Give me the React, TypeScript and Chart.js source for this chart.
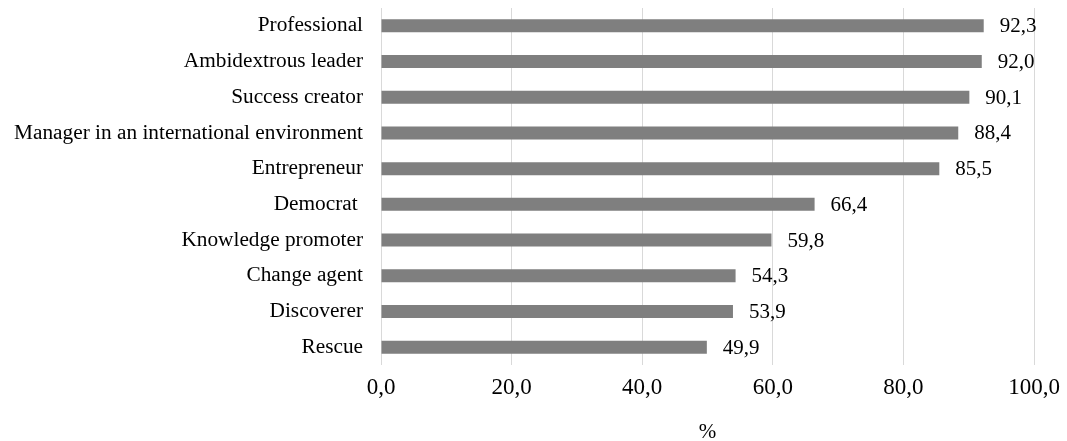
import React, { useEffect, useRef } from "react";
import { Chart, registerables } from "chart.js";

Chart.register(...registerables);

const categories = [
  "Professional",
  "Ambidextrous leader",
  "Success creator",
  "Manager in an international environment",
  "Entrepreneur",
  "Democrat ",
  "Knowledge promoter",
  "Change agent",
  "Discoverer",
  "Rescue",
];
const values = [92.3, 92.0, 90.1, 88.4, 85.5, 66.4, 59.8, 54.3, 53.9, 49.9];
const xTicks = [0, 20, 40, 60, 80, 100];

const FONT = "'Liberation Serif', 'Times New Roman', serif";
const fmt = (v: number) => v.toFixed(1).replace(".", ",");

const dataLabelPlugin = {
  id: "dataLabels",
  afterDatasetsDraw(chart: any) {
    const ctx = chart.ctx;
    const meta = chart.getDatasetMeta(0);
    ctx.save();
    ctx.font = `21px ${FONT}`;
    ctx.fillStyle = "#000000";
    ctx.textAlign = "left";
    ctx.textBaseline = "middle";
    meta.data.forEach((el: any, i: number) => {
      ctx.fillText(fmt(values[i]), el.x + 16, el.y + 1);
    });
    ctx.restore();
  },
};

export default function App() {
  const ref = useRef<HTMLCanvasElement | null>(null);
  useEffect(() => {
    document.body.style.margin = "0";
    const chart = new Chart(ref.current!, {
      type: "bar",
      data: {
        labels: categories,
        datasets: [
          {
            data: values,
            backgroundColor: "#7f7f7f",
            borderWidth: 0,
            barPercentage: 0.365,
            categoryPercentage: 1,
          },
        ],
      },
      options: {
        indexAxis: "y",
        animation: false,
        responsive: false,
        maintainAspectRatio: false,
        layout: { padding: { top: 8, right: 33, left: 0, bottom: 0 } },
        plugins: { legend: { display: false }, tooltip: { enabled: false } },
        scales: {
          x: {
            min: 0,
            max: 100,
            afterBuildTicks: (scale: any) => {
              scale.ticks = xTicks.map((v) => ({ value: v }));
            },
            afterFit: (scale: any) => {
              scale.height = 76;
              scale.paddingLeft = 0;
              scale.paddingRight = 0;
            },
            ticks: {
              callback: (v: any) => fmt(Number(v)),
              font: { family: FONT, size: 23 },
              color: "#000000",
              padding: 9,
              maxRotation: 0,
            },
            grid: { color: "#d9d9d9", lineWidth: 1, drawTicks: false },
            border: { display: false },
            title: {
              display: true,
              text: "%",
              font: { family: FONT, size: 21, lineHeight: 0.8 },
              color: "#000000",
              padding: { top: 0, bottom: 0 },
            },
          },
          y: {
            afterFit: (scale: any) => {
              scale.width = 381;
              scale.paddingTop = 0;
              scale.paddingBottom = 0;
            },
            ticks: {
              font: { family: FONT, size: 21.3 },
              color: "#000000",
              padding: 18,
            },
            grid: { display: false, drawTicks: false },
            border: { display: false },
          },
        },
      },
      plugins: [dataLabelPlugin],
    });
    return () => chart.destroy();
  }, []);
  return (
    <div style={{ width: 1067, height: 441 }}>
      <canvas ref={ref} width={1067} height={441} style={{ display: "block" }} />
    </div>
  );
}
